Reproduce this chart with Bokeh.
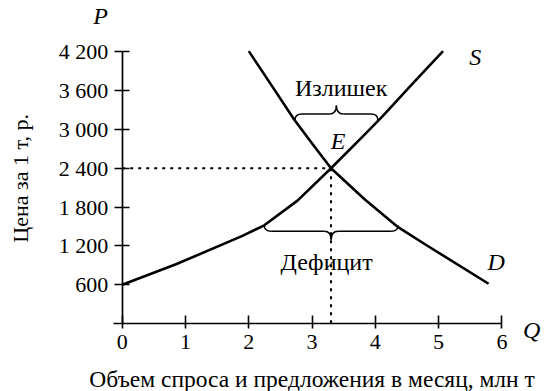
import math
from bokeh.plotting import figure
from bokeh.models import Range1d, FixedTicker
from bokeh.core.properties import value
from bokeh.embed import file_html
from bokeh.resources import INLINE

# ---- data ----
supply_q = [0, 0.86, 1.9, 2.245, 2.77, 3.3, 3.83, 4.12, 4.6, 5.07]
supply_p = [600, 920, 1355, 1518, 1900, 2400, 2920, 3210, 3720, 4210]
demand_q = [2.0, 2.36, 2.72, 3.01, 3.3, 3.83, 4.36, 4.81, 5.79]
demand_p = [4210, 3680, 3150, 2770, 2400, 1920, 1490, 1210, 615]
eq_q = 3.3
eq_p = 2400
surplus_price = 3239
surplus_q = [2.73, 4.04]
deficit_price = 1425
deficit_q = [2.245, 4.36]
x_ticks = [0, 1, 2, 3, 4, 5, 6]
y_ticks = [600, 1200, 1800, 2400, 3000, 3600, 4200]
y_tick_labels = ["600", "1 200", "1 800", "2 400", "3 000", "3 600", "4 200"]
x_title = "Объем спроса и предложения в месяц, млн т"
y_title = "Цена за 1 т, р."

FONT = "Liberation Serif"

p = figure(width=552, height=391, x_range=Range1d(-1.9235, 6.8), y_range=Range1d(-1050, 4992),
           output_backend="svg", toolbar_location=None,
           min_border_left=0, min_border_right=0, min_border_top=0, min_border_bottom=0)
p.outline_line_color = None
p.grid.visible = False
p.background_fill_color = "white"
p.border_fill_color = "white"

for ax in (p.xaxis[0], p.yaxis[0]):
    ax.fixed_location = 0
    ax.axis_line_width = 1.7
    ax.major_tick_line_width = 1.6
    ax.minor_tick_line_color = None
    ax.major_label_text_font = FONT
    ax.major_label_text_font_size = "22px"
    ax.major_label_text_color = "black"
    ax.axis_line_color = "black"
    ax.major_tick_line_color = "black"

p.xaxis.ticker = FixedTicker(ticks=x_ticks)
p.xaxis.bounds = (-0.13, 6)
p.xaxis.major_tick_in = 8
p.xaxis.major_tick_out = 5
p.xaxis.major_label_standoff = 6

p.yaxis.ticker = FixedTicker(ticks=y_ticks)
p.yaxis.bounds = (0, 4200)
p.yaxis.major_label_overrides = {t: l for t, l in zip(y_ticks, y_tick_labels)}
p.yaxis.major_tick_in = 7
p.yaxis.major_tick_out = 8
p.yaxis.major_label_standoff = 6

# dotted guides to equilibrium
p.line([0, eq_q], [eq_p, eq_p], line_color="black", line_width=2, line_dash="3 5")
p.line([eq_q, eq_q], [eq_p, 0], line_color="black", line_width=2, line_dash="3 5")

# curves
p.line(supply_q, supply_p, line_color="black", line_width=2.6, line_join="round")
p.line(demand_q, demand_p, line_color="black", line_width=2.6, line_join="round")

# braces
rx = 0.11
ry_end = 93
ry_tip = 131


def brace(q0, q1, level, up):
    s = 1 if up else -1
    m = (q0 + q1) / 2
    p.segment([q0 + rx, m + rx], [level, level], [m - rx, q1 - rx], [level, level],
              line_color="black", line_width=1.5)
    p.quadratic(x0=[q0, m - rx, m, q1 - rx],
                y0=[level - s * ry_end, level, level + s * ry_tip, level],
                x1=[q0 + rx, m, m + rx, q1],
                y1=[level, level + s * ry_tip, level, level - s * ry_end],
                cx=[q0, m, m, q1],
                cy=[level, level, level, level],
                line_color="black", line_width=1.5)
    return m


m_s = brace(surplus_q[0], surplus_q[1], surplus_price, True)
m_d = brace(deficit_q[0], deficit_q[1], deficit_price, False)

txt = dict(text_font=value(FONT), text_font_size="24px", text_color="black",
           text_align="center", text_baseline="middle")
p.text(x=[3.46], y=[3641], text=["Излишек"], **txt)
p.text(x=[3.23], y=[946], text=["Дефицит"], **txt)
itxt = dict(txt, text_font_style="italic")
p.text(x=[3.41], y=[2822], text=["E"], **itxt)
p.text(x=[5.58], y=[4120], text=["S"], **itxt)
p.text(x=[5.91], y=[954], text=["D"], **itxt)
p.text(x=[-0.34], y=[4760], text=["P"], **itxt)
p.text(x=[6.47], y=[-96], text=["Q"], **itxt)

# axis titles
p.text(x=[3.0], y=[-860], text=[x_title], text_font=value(FONT), text_font_size="23.5px",
       text_color="black", text_align="center", text_baseline="middle")
p.text(x=[-1.607], y=[2243], text=[y_title], text_font=value(FONT), text_font_size="22px",
       text_color="black", text_align="center", text_baseline="middle", angle=math.pi / 2)

open("out.html", "w").write(file_html(p, INLINE))
